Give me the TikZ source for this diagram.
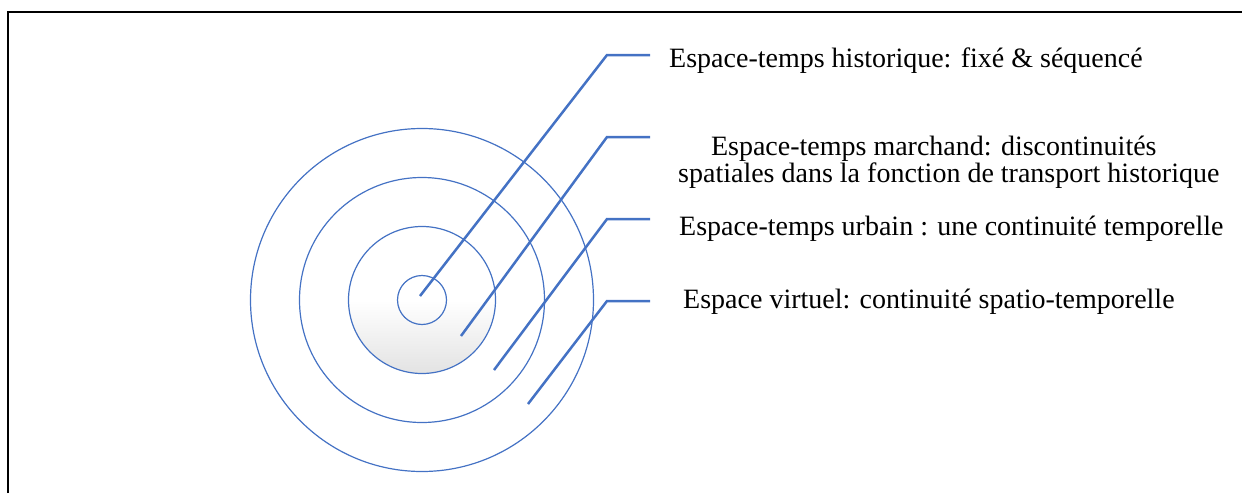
\documentclass[tikz,border=0pt]{standalone}
\usepackage{fontspec}
\setmainfont{Liberation Serif}
\usetikzlibrary{positioning}
\definecolor{Ring}{HTML}{4472C4}
\definecolor{Frame}{HTML}{000000}

\begin{document}
\begin{tikzpicture}[
  x=1pt,y=-1pt,
  every node/.style={font=\fontsize{28}{27}\selectfont},
  ring/.style={circle,draw=Ring,line width=1.2pt,inner sep=0pt},
  lead/.style={draw=Ring,line width=2.5pt},
  lbl/.style={align=center,inner sep=0pt}
]
\useasboundingbox (0,0) rectangle (1242,493);
\draw[Frame,line width=1.6pt] (8,493) -- (8,12) -- (1242,12);

% rings, outermost first
\node[ring,minimum size=343pt] (virtuel) at (422,300) {};
\node[ring,minimum size=245pt] (urbain) at (422,300) {};
\node[ring,minimum size=147pt,top color=white,bottom color=gray!22,middle color=white] (marchand) at (422,300) {};
\node[ring,minimum size=49pt] (histo) at (422,300) {};

% leader points
\coordinate (h1) at (420,296); \coordinate (k1) at (607,55);  \coordinate (e1) at (650,55);
\coordinate (h2) at (461,336); \coordinate (k2) at (607,137); \coordinate (e2) at (650,137);
\coordinate (h3) at (494,370); \coordinate (k3) at (607,219); \coordinate (e3) at (650,219);
\coordinate (h4) at (528,404); \coordinate (k4) at (607,301); \coordinate (e4) at (650,301);

\draw[lead] (h1) -- (k1) -- (e1);
\draw[lead] (h2) -- (k2) -- (e2);
\draw[lead] (h3) -- (k3) -- (e3);
\draw[lead] (h4) -- (k4) -- (e4);

\node[lbl,right=19pt of e1,yshift=-6pt] (lab1) {Espace-temps historique: fixé \& séquencé};
\node[lbl,right=28pt of e2,yshift=-25pt] (lab2) {Espace-temps marchand: discontinuités\hspace*{30pt}\\spatiales dans la fonction de transport historique};
\node[lbl,right=29pt of e3,yshift=-10pt] (lab3) {Espace-temps urbain : une continuité temporelle};
\node[lbl,right=33pt of e4,yshift=-1pt] (lab4) {Espace virtuel: continuité spatio-temporelle};
\end{tikzpicture}
\end{document}
